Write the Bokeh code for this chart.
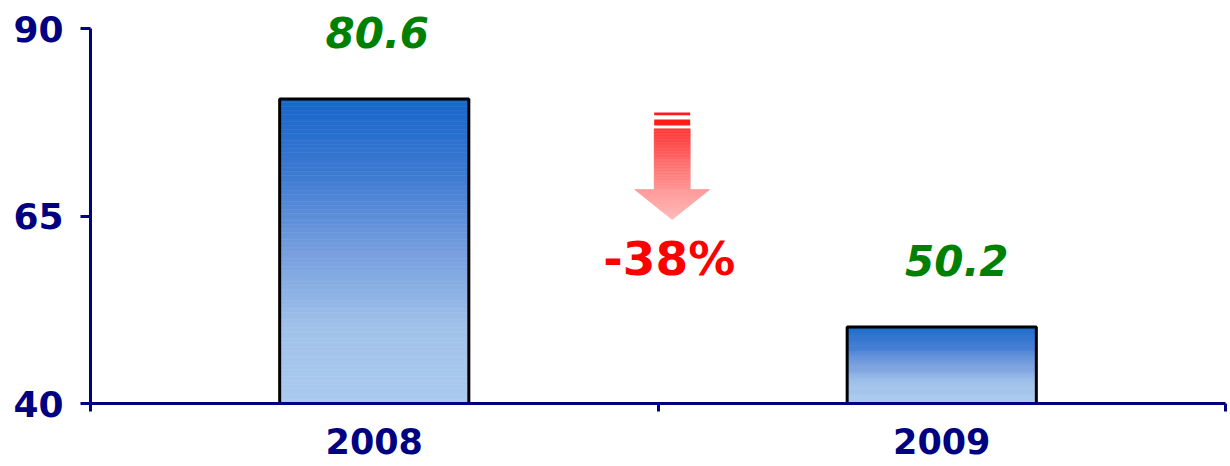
import numpy as np
from bokeh.plotting import figure
from bokeh.models import Range1d, FixedTicker, LinearAxis, ColumnDataSource
from bokeh.core.properties import value
from bokeh.embed import file_html
from bokeh.resources import INLINE

# ---- data ----
years = ["2008", "2009"]
values = [80.6, 50.2]
change_label = "-38%"
y_ticks = [40, 65, 90]
y_min, y_max = 40, 90

NAVY = "#000080"
FONT = "DejaVu Sans"

# headroom above the top tick so the top label is not clipped (28px at 7.5px/unit)
y_top = y_max + 28 / 7.5

p = figure(width=1230, height=466, output_backend="svg", toolbar_location=None,
           x_range=Range1d(0, len(years)), y_range=Range1d(y_min, y_top),
           x_axis_type=None, y_axis_type=None,
           min_border_left=90, min_border_right=5, min_border_top=0, min_border_bottom=63)
p.outline_line_color = None
p.grid.visible = False
p.background_fill_color = "white"
p.border_fill_color = "white"

# ---- gradient bars ----
def lerp_stops(t, stops):
    for (t0, c0), (t1, c1) in zip(stops[:-1], stops[1:]):
        if t <= t1:
            f = (t - t0) / (t1 - t0) if t1 > t0 else 0
            return tuple(int(round(a + (b - a) * f)) for a, b in zip(c0, c1))
    return stops[-1][1]

bar_stops = [(0.0, (22, 102, 202)), (0.25, (62, 122, 210)), (0.5, (118, 158, 222)),
             (0.75, (160, 194, 234)), (1.0, (170, 203, 238))]

half_w = 1 / 6
N = 80
L, R, T, B, C = [], [], [], [], []
for i, v in enumerate(values):
    xc = i + 0.5
    edges = np.linspace(v, y_min, N + 1)
    for k in range(N):
        t = (k + 0.5) / N
        r, g, b = lerp_stops(t, bar_stops)
        L.append(xc - half_w); R.append(xc + half_w)
        T.append(edges[k]); B.append(edges[k + 1])
        C.append("#%02x%02x%02x" % (r, g, b))
p.quad(left=L, right=R, top=T, bottom=B, fill_color=C, line_color=C, line_width=0.6)
centers = [i + 0.5 for i in range(len(years))]
p.quad(left=[c - half_w for c in centers], right=[c + half_w for c in centers],
       top=values, bottom=[y_min] * len(values), fill_alpha=0, line_color="black", line_width=3)

# value labels
lab_src = ColumnDataSource(dict(x=centers, y=values, text=[f"{v:.1f}" for v in values],
                                dx=[3, 15]))
p.text(x="x", y="y", text="text", source=lab_src, x_offset="dx", y_offset=-67,
       text_align="center", text_baseline="alphabetic", text_color="#008000",
       text_font=value(FONT), text_font_size="42px", text_font_style="bold italic")

# ---- arrow annotation ----
axc = 1.025
shaft_hw = 0.0317
head_hw = 0.066
# stripes
p.quad(left=[axc - shaft_hw] * 2, right=[axc + shaft_hw] * 2, top=[78.8, 77.87], bottom=[78.44, 77.07],
       fill_color="#ff1a1a", line_color=None)
# shaft gradient
shaft_top, shaft_bot, tip = 76.63, 68.53, 64.53
Ns = 40
se = np.linspace(shaft_top, shaft_bot, Ns + 1)
sc = []
for k in range(Ns):
    t = (k + 0.5) / Ns
    sc.append("#ff%02x%02x" % (int(55 + 95 * t), int(55 + 95 * t)))
p.quad(left=[axc - shaft_hw] * Ns, right=[axc + shaft_hw] * Ns, top=se[:-1].tolist(), bottom=se[1:].tolist(),
       fill_color=sc, line_color=sc, line_width=0.6)
# head gradient trapezoids
Nh = 30
he = np.linspace(shaft_bot, tip, Nh + 1)
xs, ys, hc = [], [], []
for k in range(Nh):
    y0, y1 = he[k], he[k + 1]
    w0 = head_hw * (y0 - tip) / (shaft_bot - tip)
    w1 = head_hw * (y1 - tip) / (shaft_bot - tip)
    xs.append([axc - w0, axc + w0, axc + w1, axc - w1])
    ys.append([y0, y0, y1, y1])
    t = (k + 0.5) / Nh
    c = int(150 + 32 * t)
    hc.append("#ff%02x%02x" % (c, c))
p.patches(xs=xs, ys=ys, fill_color=hc, line_color=hc, line_width=0.6)

p.text(x=[1.02], y=[57.07], text=[change_label], y_offset=-17, text_align="center", text_baseline="alphabetic",
       text_color="#ff0000", text_font=value(FONT), text_font_size="47px", text_font_style="bold")

# ---- axes ----
xaxis = LinearAxis(ticker=FixedTicker(ticks=centers, minor_ticks=list(range(len(years) + 1))),
                   major_label_overrides={c: y for c, y in zip(centers, years)})
xaxis.axis_line_color = NAVY
xaxis.axis_line_width = 3
xaxis.major_tick_out = 0
xaxis.major_tick_in = 0
xaxis.minor_tick_out = 8
xaxis.minor_tick_in = 0
xaxis.minor_tick_line_color = NAVY
xaxis.minor_tick_line_width = 3
xaxis.major_label_text_font = FONT
xaxis.major_label_text_font_size = "35px"
xaxis.major_label_text_font_style = "bold"
xaxis.major_label_text_color = NAVY
xaxis.major_label_standoff = 16
p.add_layout(xaxis, "below")

yaxis = LinearAxis(ticker=FixedTicker(ticks=y_ticks, minor_ticks=[]), bounds=(y_min, y_max))
yaxis.axis_line_color = NAVY
yaxis.axis_line_width = 3
yaxis.major_tick_out = 10
yaxis.major_tick_in = 0
yaxis.major_tick_line_color = NAVY
yaxis.major_tick_line_width = 3
yaxis.major_label_text_font = FONT
yaxis.major_label_text_font_size = "36px"
yaxis.major_label_text_font_style = "bold"
yaxis.major_label_text_color = NAVY
yaxis.major_label_standoff = 17
p.add_layout(yaxis, "left")

open("out.html", "w").write(file_html(p, INLINE))
